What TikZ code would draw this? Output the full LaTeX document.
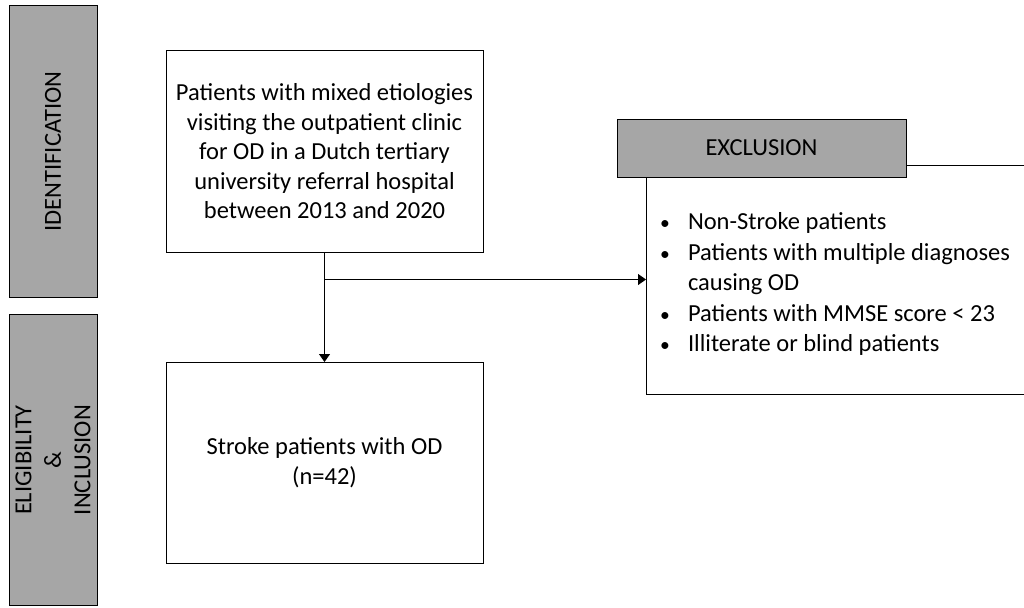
\documentclass[tikz,border=0pt]{standalone}
\usepackage{fontspec}
\usepackage{graphicx}
\setmainfont{Carlito}
\usetikzlibrary{positioning,arrows.meta}

\newcommand{\exbullet}{\makebox[26pt][l]{\hspace{-2pt}\scalebox{0.8}{\textbullet}}}

\tikzset{
  stagebar/.style={draw, fill=black!35, rotate=90, minimum width=291pt, minimum height=88pt,
    inner sep=0pt, outer sep=0pt, align=center},
  flowbox/.style={draw, fill=white, minimum width=317pt, minimum height=201pt,
    inner sep=0pt, outer sep=0pt, align=center},
  exclbox/.style={draw, fill=white, minimum width=384pt, minimum height=229pt,
    inner sep=0pt, outer sep=0pt, font=\fontsize{24.5}{30.5}\selectfont},
  headbox/.style={draw, fill=black!35, minimum width=289pt, minimum height=58pt,
    inner sep=0pt, outer sep=0pt},
  flowarrow/.style={-{Triangle[width=11pt,length=8pt]}},
}

\begin{document}
\begin{tikzpicture}[x=1pt, y=-1pt, line width=1pt, font=\fontsize{24.5}{29.5}\selectfont]
 \useasboundingbox (0,0) rectangle (1024,607);
 % stages
 \node[stagebar] (ident) at (53,151.5) {IDENTIFICATION};
 \node[stagebar] (elig) at (53,460) {ELIGIBILITY\\\&\\INCLUSION};
 % flow
 \node[flowbox] (pool) at (324.5,151.5) {Patients with mixed etiologies\\visiting the outpatient clinic\\for OD in a Dutch tertiary\\university referral hospital\\between 2013 and 2020};
 \node[flowbox, below=110pt of pool] (stroke) {Stroke patients with OD\\(n=42)};
 \node[exclbox] (excl) at (838,279.5) {\raisebox{-5pt}[\height][\depth]{\makebox[352pt][l]{%
  \begin{tabular}{@{}l@{}l@{}}
   \exbullet & Non-Stroke patients\\
   \exbullet & Patients with multiple diagnoses\\
             & causing OD\\
   \exbullet & Patients with MMSE score < 23\\
   \exbullet & Illiterate or blind patients
  \end{tabular}}}};
 \node[headbox] (exhead) at (761.5,148) {EXCLUSION};
 \draw[flowarrow] (pool) -- (stroke);
 \draw[flowarrow] (pool.south |- excl.west) -- (excl.west);
\end{tikzpicture}
\end{document}
